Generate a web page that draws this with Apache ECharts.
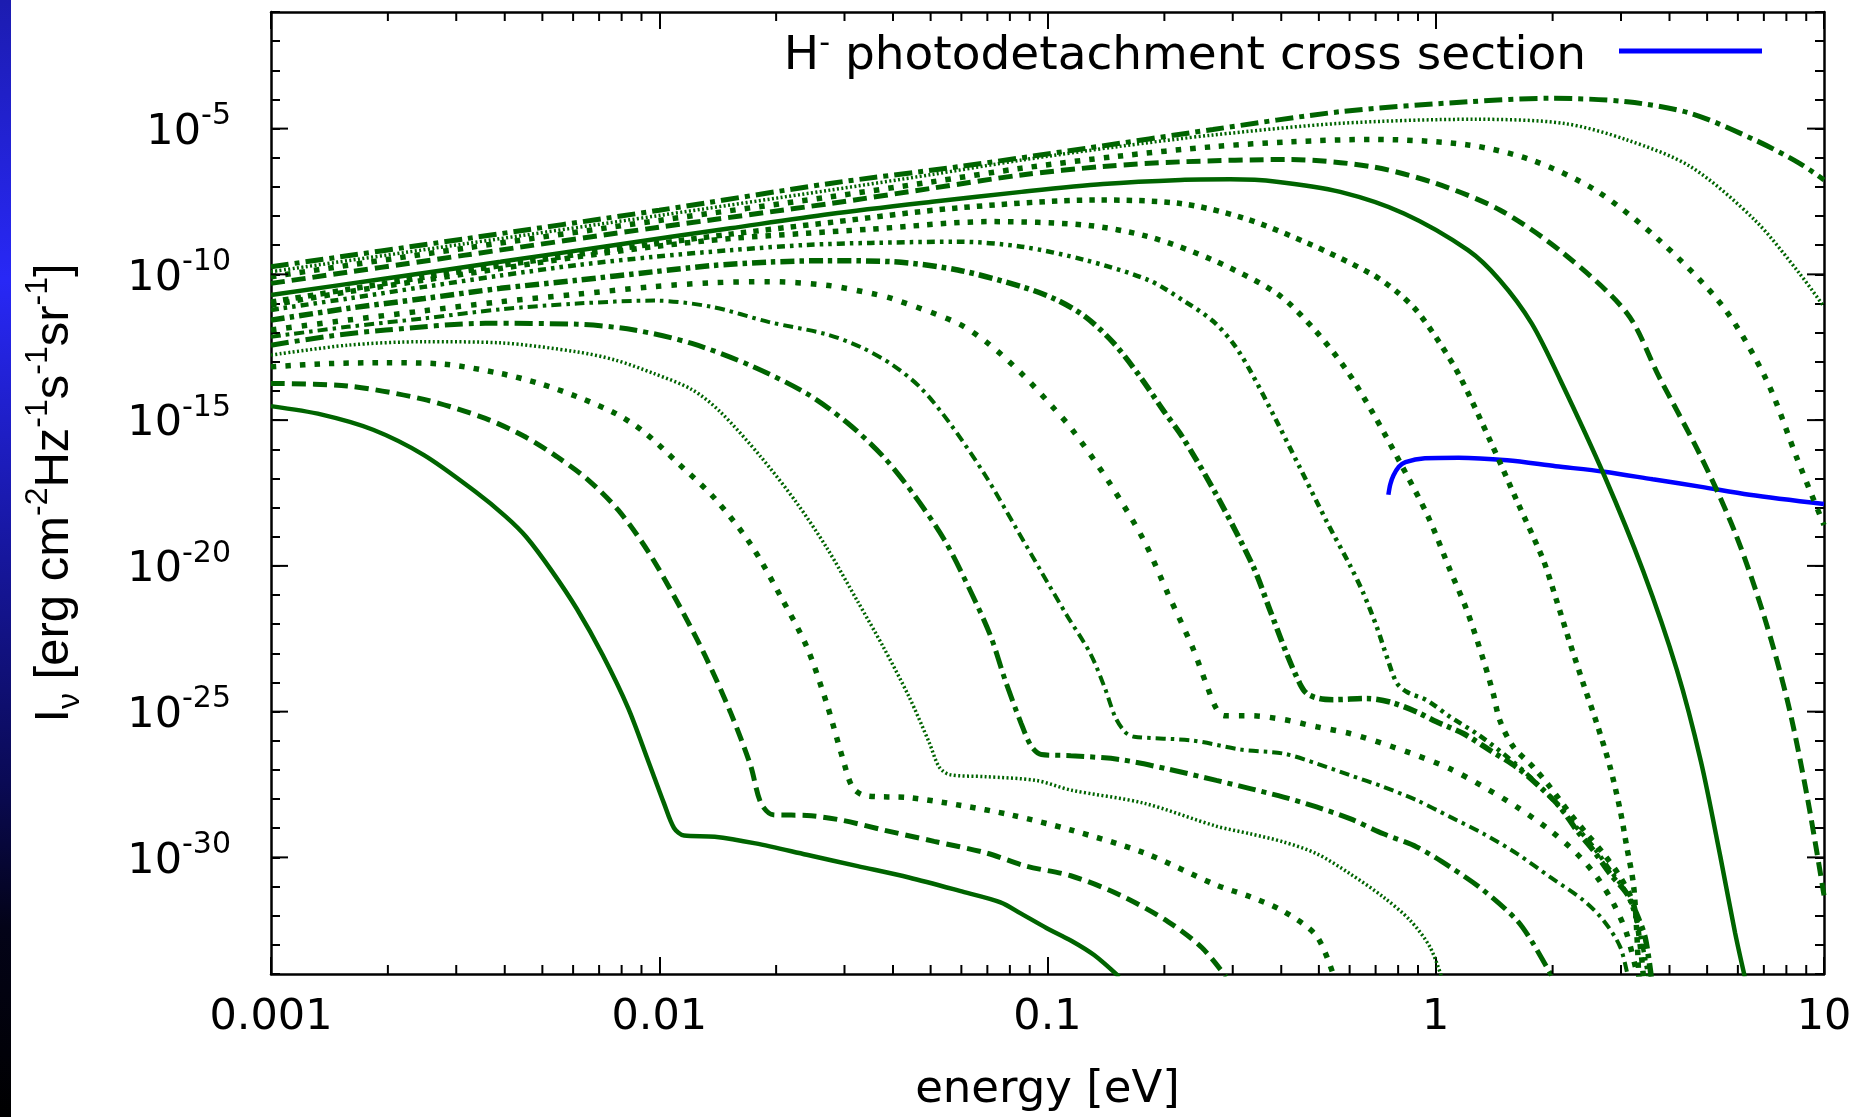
<!DOCTYPE html>
<html>
<head>
<meta charset="utf-8">
<script src="https://cdn.jsdelivr.net/npm/echarts@6/dist/echarts.min.js"></script>
<style>
html,body{margin:0;padding:0;background:#ffffff;}
#chart{width:1867px;height:1117px;}
</style>
</head>
<body>
<div id="chart"></div>
<script>
// ---------------- data ----------------
// each point: [log10(energy / eV), log10(I_nu / erg cm^-2 Hz^-1 s^-1 sr^-1)]
const c01 = [[-3,-14.52],[-2.869,-14.81],[-2.737,-15.33],[-2.606,-16.2],[-2.474,-17.45],[-2.396,-18.3],[-2.343,-19.0],[-2.277,-20.17],[-2.212,-21.48],[-2.146,-23.05],[-2.080,-24.88],[-2.028,-26.71],[-1.988,-28.14],[-1.962,-28.99],[-1.936,-29.25],[-1.857,-29.29],[-1.752,-29.52],[-1.620,-29.91],[-1.489,-30.30],[-1.357,-30.69],[-1.226,-31.15],[-1.121,-31.54],[-1.068,-31.93],[-1.003,-32.42],[-0.940,-32.85],[-0.880,-33.35],[-0.815,-34.1]];
const c02 = [[-3,-13.74],[-2.803,-13.83],[-2.606,-14.29],[-2.448,-14.94],[-2.343,-15.59],[-2.264,-16.25],[-2.185,-17.03],[-2.106,-18.08],[-2.028,-19.52],[-1.949,-21.35],[-1.883,-23.05],[-1.817,-25.01],[-1.765,-26.84],[-1.738,-28.14],[-1.706,-28.54],[-1.620,-28.56],[-1.528,-28.73],[-1.423,-29.06],[-1.292,-29.45],[-1.160,-29.84],[-1.055,-30.30],[-0.940,-30.63],[-0.815,-31.28],[-0.690,-32.2],[-0.602,-33.1],[-0.540,-34.1]];
const c03 = [[-3,-13.17],[-2.85,-13.06],[-2.704,-13.03],[-2.556,-13.08],[-2.409,-13.40],[-2.310,-13.74],[-2.211,-14.20],[-2.113,-14.77],[-2.040,-15.40],[-1.949,-16.51],[-1.857,-17.69],[-1.765,-19.25],[-1.686,-21.08],[-1.620,-22.78],[-1.568,-24.75],[-1.528,-26.58],[-1.502,-27.6],[-1.470,-27.88],[-1.357,-27.95],[-1.226,-28.21],[-1.095,-28.54],[-0.940,-29.06],[-0.752,-29.84],[-0.565,-30.95],[-0.478,-31.35],[-0.392,-31.85],[-0.307,-32.7],[-0.262,-34.1]];
const c04 = [[-3,-12.77],[-2.803,-12.43],[-2.606,-12.31],[-2.409,-12.35],[-2.211,-12.66],[-2.113,-12.94],[-2.014,-13.4],[-1.916,-13.95],[-1.844,-14.7],[-1.739,-16.25],[-1.647,-17.82],[-1.568,-19.39],[-1.489,-21.22],[-1.423,-22.78],[-1.357,-24.48],[-1.305,-26.05],[-1.279,-26.9],[-1.252,-27.16],[-1.160,-27.23],[-1.029,-27.36],[-0.940,-27.69],[-0.752,-28.14],[-0.565,-28.93],[-0.478,-29.19],[-0.392,-29.47],[-0.307,-29.87],[-0.221,-30.56],[-0.135,-31.36],[-0.066,-32.16],[-0.015,-33.07],[0.015,-34.1]];
const c05 = [[-3,-12.43],[-2.85,-12.12],[-2.704,-11.91],[-2.448,-11.68],[-2.211,-11.71],[-2.064,-11.91],[-1.916,-12.37],[-1.768,-13.11],[-1.62,-14.09],[-1.515,-15.1],[-1.423,-16.25],[-1.344,-17.56],[-1.265,-19.12],[-1.200,-20.82],[-1.147,-22.39],[-1.108,-23.96],[-1.068,-25.4],[-1.042,-26.18],[-1.016,-26.47],[-0.940,-26.51],[-0.815,-26.64],[-0.690,-26.97],[-0.565,-27.36],[-0.478,-27.64],[-0.392,-27.93],[-0.307,-28.27],[-0.221,-28.67],[-0.135,-29.19],[-0.049,-29.64],[0.037,-30.33],[0.123,-31.13],[0.209,-32.16],[0.251,-32.96],[0.30,-34.1]];
const c06 = [[-3,-12.14],[-2.803,-11.8],[-2.606,-11.51],[-2.409,-11.2],[-2.211,-11.0],[-2.014,-10.9],[-1.866,-11.11],[-1.719,-11.63],[-1.571,-12.05],[-1.48,-12.5],[-1.40,-13.1],[-1.326,-13.9],[-1.252,-15.1],[-1.16,-16.9],[-1.081,-18.7],[-1.016,-20.2],[-0.95,-21.7],[-0.89,-23.0],[-0.852,-24.2],[-0.825,-25.2],[-0.80,-25.7],[-0.777,-25.86],[-0.627,-25.99],[-0.502,-26.3],[-0.392,-26.44],[-0.307,-26.78],[-0.221,-27.18],[-0.135,-27.58],[-0.049,-28.04],[0.037,-28.61],[0.123,-29.19],[0.209,-29.87],[0.294,-30.67],[0.380,-31.47],[0.432,-32.16],[0.475,-33.07],[0.495,-34.1]];
const c07 = [[-3,-11.91],[-2.803,-11.57],[-2.606,-11.25],[-2.409,-10.94],[-2.211,-10.68],[-2.014,-10.42],[-1.866,-10.29],[-1.719,-10.25],[-1.571,-10.37],[-1.455,-10.65],[-1.396,-10.85],[-1.231,-11.68],[-1.15,-12.4],[-1.067,-13.4],[-0.99,-14.5],[-0.935,-15.35],[-0.84,-17.16],[-0.752,-19.12],[-0.69,-20.95],[-0.627,-22.78],[-0.59,-24.09],[-0.565,-24.9],[-0.545,-25.14],[-0.478,-25.14],[-0.392,-25.27],[-0.307,-25.52],[-0.221,-25.75],[-0.135,-26.1],[-0.049,-26.5],[0.037,-26.96],[0.123,-27.58],[0.209,-28.27],[0.294,-29.07],[0.363,-29.87],[0.415,-30.67],[0.458,-31.59],[0.492,-32.62],[0.52,-34.1]];
const c08 = [[-3,-11.57],[-2.803,-11.17],[-2.606,-10.83],[-2.409,-10.48],[-2.211,-10.2],[-2.014,-9.91],[-1.866,-9.7],[-1.719,-9.58],[-1.571,-9.53],[-1.396,-9.57],[-1.231,-9.85],[-1.067,-10.42],[-0.98,-10.85],[-0.903,-11.45],[-0.83,-12.35],[-0.762,-13.5],[-0.70,-14.7],[-0.652,-15.59],[-0.565,-17.56],[-0.47,-20.03],[-0.427,-21.52],[-0.384,-23.01],[-0.35,-24.04],[-0.332,-24.38],[-0.30,-24.55],[-0.264,-24.59],[-0.178,-24.55],[-0.118,-24.67],[-0.049,-25.01],[0.002,-25.35],[0.071,-25.75],[0.140,-26.33],[0.208,-26.90],[0.268,-27.58],[0.320,-28.27],[0.363,-29.07],[0.406,-29.76],[0.449,-30.56],[0.492,-31.24],[0.517,-31.93],[0.539,-32.73],[0.555,-34.1]];
const c09 = [[-3,-11.22],[-2.803,-10.83],[-2.606,-10.43],[-2.409,-10.04],[-2.211,-9.68],[-2.014,-9.40],[-1.817,-9.17],[-1.62,-8.99],[-1.455,-8.92],[-1.231,-8.88],[-1.067,-9.05],[-0.903,-9.51],[-0.739,-10.2],[-0.65,-10.9],[-0.574,-11.6],[-0.52,-12.4],[-0.478,-13.3],[-0.415,-14.9],[-0.353,-16.55],[-0.28,-18.5],[-0.221,-19.98],[-0.186,-20.95],[-0.152,-22.09],[-0.126,-23.12],[-0.101,-24.0],[-0.075,-24.32],[-0.023,-24.61],[0.037,-25.18],[0.105,-25.75],[0.174,-26.44],[0.243,-27.24],[0.303,-28.04],[0.354,-28.84],[0.406,-29.64],[0.449,-30.44],[0.492,-31.24],[0.522,-32.39],[0.548,-34.1]];
const c10 = [[-3,-11.05],[-2.803,-10.6],[-2.606,-10.2],[-2.409,-9.8],[-2.211,-9.4],[-2.014,-9.05],[-1.817,-8.77],[-1.62,-8.59],[-1.455,-8.45],[-1.149,-8.19],[-0.903,-8.31],[-0.739,-8.71],[-0.574,-9.51],[-0.41,-10.65],[-0.312,-11.9],[-0.229,-13.3],[-0.16,-14.8],[-0.09,-16.5],[-0.02,-18.3],[0.037,-20.15],[0.080,-21.52],[0.123,-23.24],[0.148,-24.38],[0.165,-25.3],[0.200,-26.21],[0.251,-26.9],[0.294,-27.58],[0.346,-28.5],[0.389,-29.19],[0.432,-29.87],[0.475,-30.67],[0.509,-31.59],[0.526,-32.96],[0.535,-34.1]];
const c11 = [[-3,-10.95],[-2.803,-10.52],[-2.606,-10.1],[-2.409,-9.7],[-2.211,-9.32],[-2.014,-8.96],[-1.817,-8.62],[-1.56,-8.22],[-1.231,-7.72],[-0.87,-7.45],[-0.657,-7.57],[-0.492,-8.08],[-0.328,-8.94],[-0.164,-10.0],[-0.1,-10.6],[-0.049,-11.25],[0.01,-12.35],[0.062,-13.5],[0.14,-15.7],[0.21,-17.8],[0.277,-19.8],[0.311,-21.18],[0.346,-22.66],[0.380,-24.04],[0.415,-25.41],[0.449,-26.9],[0.475,-28.38],[0.492,-29.64],[0.509,-30.9],[0.517,-32.39],[0.523,-34.1]];
const c12 = [[-3,-10.71],[-2.704,-10.14],[-2.409,-9.57],[-2.113,-8.99],[-1.817,-8.42],[-1.56,-7.93],[-1.297,-7.51],[-1.067,-7.17],[-0.857,-6.9],[-0.657,-6.76],[-0.53,-6.74],[-0.41,-6.82],[-0.246,-7.17],[-0.082,-7.91],[0.083,-9.17],[0.165,-10.2],[0.247,-11.68],[0.321,-13.63],[0.434,-16.9],[0.534,-20.17],[0.621,-23.57],[0.683,-26.71],[0.733,-29.97],[0.771,-32.59],[0.796,-34.1]];
const c13 = [[-3,-10.31],[-2.5,-9.34],[-2.0,-8.38],[-1.56,-7.57],[-1.3,-7.05],[-1.067,-6.59],[-0.857,-6.3],[-0.657,-6.14],[-0.377,-6.06],[-0.164,-6.31],[0.0,-6.88],[0.165,-7.79],[0.329,-9.28],[0.493,-11.34],[0.575,-13.51],[0.683,-16.25],[0.771,-18.86],[0.846,-21.74],[0.908,-24.75],[0.958,-28.01],[1.0,-31.3]];
const c14 = [[-3,-10.08],[-2.5,-9.1],[-2.0,-8.15],[-1.56,-7.34],[-1.3,-6.83],[-1.067,-6.36],[-0.82,-5.95],[-0.574,-5.62],[-0.37,-5.45],[-0.164,-5.37],[0.083,-5.56],[0.247,-6.08],[0.411,-7.11],[0.575,-8.82],[0.74,-11.11],[0.852,-13.63],[0.933,-16.4],[1.0,-18.6]];
const c15 = [[-3,-9.91],[-2.5,-8.95],[-2.0,-7.98],[-1.56,-7.11],[-1.3,-6.58],[-1.067,-6.08],[-0.82,-5.62],[-0.574,-5.22],[-0.246,-4.82],[0.099,-4.68],[0.329,-4.82],[0.493,-5.39],[0.657,-6.31],[0.822,-8.14],[0.937,-9.97],[1.0,-11.11]];
const c16 = [[-3,-9.74],[-2.5,-8.78],[-2.0,-7.8],[-1.56,-6.88],[-1.231,-6.31],[-0.903,-5.68],[-0.574,-5.03],[-0.246,-4.42],[0.083,-4.08],[0.296,-3.96],[0.493,-4.08],[0.657,-4.48],[0.822,-5.39],[0.937,-6.19],[1.0,-6.76]];
const hMinusCross = [[-0.122,-17.56],[-0.117,-17.2],[-0.109,-16.9],[-0.095,-16.6],[-0.078,-16.44],[-0.028,-16.31],[0.059,-16.29],[0.184,-16.38],[0.309,-16.58],[0.434,-16.77],[0.559,-17.03],[0.684,-17.29],[0.808,-17.56],[1.0,-17.88]];

const greenCurves = [c01,c02,c03,c04,c05,c06,c07,c08,c09,c10,c11,c12,c13,c14,c15,c16];
const blueName = 'H- photodetachment cross section';

// tick labels
const xTickLabels = ['0.001','0.01','0.1','1','10'];   // at log10 E = -3..1
const yTickExponents = [-30,-25,-20,-15,-10,-5];

// ---------------- styles ----------------
const GREEN = '#006400';
const BLUE = '#0000ff';
const FONT_H = 'DejaVu Sans';
const FONT_T = 'Liberation Sans';
const X_MIN = -3, X_MAX = 1, Y_MIN = -34, Y_MAX = -1;
const MAJOR_LEN = 17, MINOR_LEN = 9;

const styleCycle = [
  {type:'solid', width:4.5},
  {type:[14,7], width:5},
  {type:[5.5,9], width:5.5},
  {type:[2,2.4], width:3.5},
  {type:[18,6,5,6], width:5},
  {type:[10,5,3.5,5], width:4},
  {type:[5.5,10], width:5.5},
  {type:[14,5,4.5,5], width:5.5},
  {type:[8,5,3.5,5,3.5,5], width:4.5},
  {type:[5.5,8], width:5.5},
  {type:[5.5,7], width:5.5},
  {type:'solid', width:4.5},
  {type:[14,7], width:5},
  {type:[5.5,9], width:5.5},
  {type:[2,2.4], width:3.5},
  {type:[18,6,5,6], width:5}
];

// minor tick positions on the energy axis (2..9 within each decade)
const xMinorTicks = [];
for (let d = X_MIN; d < X_MAX; d++) {
  for (let k = 2; k <= 9; k++) xMinorTicks.push(d + Math.log10(k));
}

const series = [];
series.push({
  name: blueName, type: 'line', data: hMinusCross,
  xAxisIndex: 0, yAxisIndex: 0,
  symbol: 'none', showSymbol: false, smooth: 0.3,
  lineStyle: {color: BLUE, width: 4.5}, itemStyle: {color: BLUE},
  z: 2, silent: true
});
greenCurves.forEach(function (d, i) {
  const st = styleCycle[i];
  series.push({
    name: 'spectrum ' + (i + 1), type: 'line', data: d,
    xAxisIndex: 0, yAxisIndex: 0,
    symbol: 'none', showSymbol: false, smooth: 0.3,
    clip: true,
    lineStyle: {color: GREEN, width: st.width, type: st.type, cap: 'butt'},
    itemStyle: {color: GREEN},
    z: 3, silent: true
  });
});
// minor ticks on bottom/top energy axes
series.push({
  type: 'custom', name: 'xMinorTicks', silent: true, z: 6, clip: false,
  xAxisIndex: 0, yAxisIndex: 0,
  data: xMinorTicks.map(function (v) { return [v, Y_MIN]; }),
  renderItem: function (params, api) {
    const x = api.value(0);
    const b = api.coord([x, Y_MIN]);
    const t = api.coord([x, Y_MAX]);
    const s = {stroke: '#000', lineWidth: 2};
    return {type: 'group', children: [
      {type: 'line', shape: {x1: b[0], y1: b[1], x2: b[0], y2: b[1] - MINOR_LEN}, style: s},
      {type: 'line', shape: {x1: t[0], y1: t[1], x2: t[0], y2: t[1] + MINOR_LEN}, style: s}
    ]};
  }
});
// long (major) ticks on left/right intensity axes
series.push({
  type: 'custom', name: 'yMajorTicks', silent: true, z: 6, clip: false,
  xAxisIndex: 0, yAxisIndex: 0,
  data: yTickExponents.map(function (v) { return [X_MIN, v]; }),
  renderItem: function (params, api) {
    const y = api.value(1);
    const l = api.coord([X_MIN, y]);
    const r = api.coord([X_MAX, y]);
    const s = {stroke: '#000', lineWidth: 2};
    return {type: 'group', children: [
      {type: 'line', shape: {x1: l[0], y1: l[1], x2: l[0] + MAJOR_LEN, y2: l[1]}, style: s},
      {type: 'line', shape: {x1: r[0], y1: r[1], x2: r[0] - MAJOR_LEN, y2: r[1]}, style: s}
    ]};
  }
});

const axisLineStyle = {show: true, onZero: false, lineStyle: {color: '#000', width: 2.5}};

const option = {
  animation: false,
  backgroundColor: '#ffffff',
  grid: {left: 271, right: 43, top: 12, bottom: 143, containLabel: false, outerBoundsMode: 'none'},
  graphic: [{
    type: 'rect', left: 0, top: 0, z: -10, silent: true,
    shape: {x: 0, y: 0, width: 11, height: 1117},
    style: {fill: {type: 'linear', x: 0, y: 0, x2: 0, y2: 1, colorStops: [
      {offset: 0, color: '#1c1cb0'},
      {offset: 0.25, color: '#2828f6'},
      {offset: 0.5, color: '#16169c'},
      {offset: 0.7, color: '#0a0a55'},
      {offset: 0.83, color: '#030318'},
      {offset: 1, color: '#000000'}
    ]}}
  }],
  legend: {
    data: [{name: blueName, icon: 'rect'}],
    right: 100, top: 24, orient: 'horizontal',
    align: 'right',
    itemWidth: 143, itemHeight: 5,
    selectedMode: false,
    itemStyle: {color: BLUE, borderWidth: 0},
    textStyle: {
      color: '#000', fontFamily: FONT_H, fontSize: 47,
      padding: [12, 28, 0, 0],
      rich: {
        t: {fontFamily: FONT_H, fontSize: 47, lineHeight: 56, color: '#000'},
        sup: {fontFamily: FONT_H, fontSize: 30, lineHeight: 28, verticalAlign: 'top', color: '#000'}
      }
    },
    formatter: function () { return '{t|H}{sup|-}{t| photodetachment cross section}'; }
  },
  xAxis: [{
    type: 'value', position: 'bottom', min: X_MIN, max: X_MAX, interval: 1,
    axisLine: axisLineStyle,
    axisTick: {show: true, inside: true, length: MAJOR_LEN, lineStyle: {color: '#000', width: 2}},
    splitLine: {show: false},
    axisLabel: {
      show: true, margin: 22, color: '#000', fontFamily: FONT_H, fontSize: 43,
      formatter: function (v) { const i = Math.round(v - X_MIN); return xTickLabels[i] !== undefined ? xTickLabels[i] : ''; }
    },
    name: 'energy [eV]', nameLocation: 'middle', nameGap: 94,
    nameTextStyle: {color: '#000', fontFamily: FONT_H, fontSize: 45}
  }, {
    type: 'value', position: 'top', min: X_MIN, max: X_MAX, interval: 1,
    axisLine: axisLineStyle,
    axisTick: {show: true, inside: true, length: MAJOR_LEN, lineStyle: {color: '#000', width: 2}},
    splitLine: {show: false}, axisLabel: {show: false}
  }],
  yAxis: [{
    type: 'value', position: 'left', min: Y_MIN, max: Y_MAX, interval: 1,
    axisLine: axisLineStyle,
    axisTick: {show: true, inside: true, length: MINOR_LEN, lineStyle: {color: '#000', width: 2}},
    splitLine: {show: false},
    axisLabel: {
      show: true, margin: 40, color: '#000', padding: [8, 0, 0, 0],
      formatter: function (v) {
        const e = Math.round(v);
        return yTickExponents.indexOf(e) >= 0 ? '{b|10}{s|' + e + '}' : '';
      },
      rich: {
        b: {fontFamily: FONT_H, fontSize: 43, lineHeight: 62, color: '#000'},
        s: {fontFamily: FONT_H, fontSize: 30, lineHeight: 28, verticalAlign: 'top', color: '#000'}
      }
    },
    name: '{t|I}{sub|ν}{t| [erg cm}{sup|-2}{t|Hz}{sup|-1}{t|s}{sup|-1}{t|sr}{sup|-1}{t|]}',
    nameLocation: 'middle', nameRotate: 90, nameGap: 185,
    nameTextStyle: {
      color: '#000',
      rich: {
        t: {fontFamily: FONT_T, fontSize: 49, lineHeight: 64, color: '#000'},
        sub: {fontFamily: FONT_T, fontSize: 32, lineHeight: 28, verticalAlign: 'bottom', color: '#000'},
        sup: {fontFamily: FONT_T, fontSize: 32, lineHeight: 28, verticalAlign: 'top', color: '#000'}
      }
    }
  }, {
    type: 'value', position: 'right', min: Y_MIN, max: Y_MAX, interval: 1,
    axisLine: axisLineStyle,
    axisTick: {show: true, inside: true, length: MINOR_LEN, lineStyle: {color: '#000', width: 2}},
    splitLine: {show: false}, axisLabel: {show: false}
  }],
  series: series
};

const chart = echarts.init(document.getElementById('chart'), null, {renderer: 'canvas', width: 1867, height: 1117});
chart.setOption(option);
</script>
</body>
</html>
